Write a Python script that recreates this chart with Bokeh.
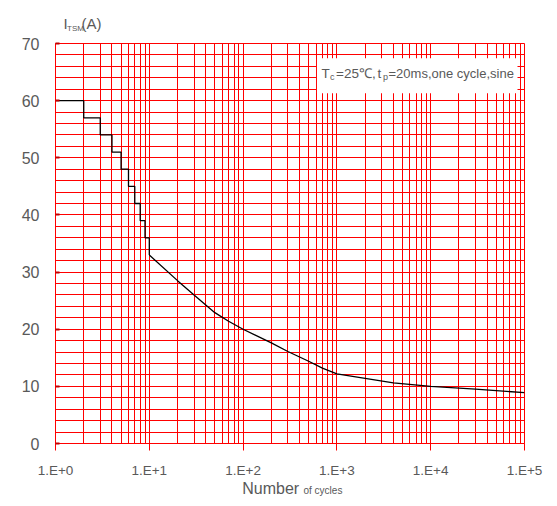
from bokeh.plotting import figure
from bokeh.layouts import column
from bokeh.models import FixedTicker, Label, BoxAnnotation, Range1d
from bokeh.embed import file_html
from bokeh.resources import INLINE

# ---- data ----
step_cycles = [1, 2, 3, 4, 5, 6, 7, 8, 9, 10]
step_current = [60, 57, 54, 51, 48, 45, 42, 39, 36, 33]

curve_cycles = [10, 20, 30, 50, 70, 100, 200, 300, 500, 700, 1000, 2000, 4000, 10000, 30000, 100000]
curve_current = [33, 28.5, 26.0, 22.9, 21.4, 20.0, 17.6, 16.1, 14.4, 13.2, 12.2, 11.4, 10.6, 10.0, 9.5, 8.9]

x_ticks = [1, 10, 100, 1000, 10000, 100000]
x_tick_labels = ["1.E+0", "1.E+1", "1.E+2", "1.E+3", "1.E+4", "1.E+5"]
y_ticks = [0, 10, 20, 30, 40, 50, 60, 70]

FONT = "Liberation Sans"
TXT = "#595959"
LEFT, FW, RIGHT = 55, 469, 32

x_minor = [m * d for d in x_ticks[:-1] for m in range(2, 10)]
y_minor = list(range(0, 71, 2))

# ---------------- main chart ----------------
p = figure(title=None, x_axis_type="log", x_range=(1, 100000), y_range=(0, 70),
           frame_width=FW, frame_height=400,
           min_border_left=LEFT, min_border_right=RIGHT, min_border_top=9, min_border_bottom=35,
           output_backend="svg", toolbar_location=None)
p.background_fill_color = "white"
p.border_fill_color = "white"
p.outline_line_color = "red"

p.xaxis.ticker = FixedTicker(ticks=x_ticks, minor_ticks=x_minor)
p.xaxis.major_label_overrides = dict(zip(x_ticks, x_tick_labels))
p.yaxis.ticker = FixedTicker(ticks=y_ticks, minor_ticks=y_minor)
for ax in (p.xaxis, p.yaxis):
    ax.axis_line_color = "red"
    ax.minor_tick_line_color = None
    ax.major_label_text_font = FONT
    ax.major_label_text_color = TXT
p.xaxis.major_label_text_font_size = "13.5px"
p.yaxis.major_label_text_font_size = "16px"
p.xaxis.major_tick_line_color = "red"
p.xaxis.major_tick_out = 7
p.xaxis.major_tick_in = 0
p.xaxis.major_label_standoff = 12
p.yaxis.major_tick_line_color = "#C00000"
p.yaxis.major_tick_line_width = 2
p.yaxis.major_tick_out = 0
p.yaxis.major_tick_in = 4
p.yaxis.major_label_standoff = 12

for g in (p.xgrid, p.ygrid):
    g.grid_line_color = "red"
    g.grid_line_width = 1
    g.minor_grid_line_color = "red"
    g.minor_grid_line_width = 1
p.xgrid.ticker = p.xaxis.ticker
p.ygrid.ticker = p.yaxis.ticker

p.step(step_cycles, step_current, mode="after", line_color="black", line_width=1.3)
p.line(curve_cycles, curve_current, line_color="black", line_width=1.3)

# white box behind the condition text
p.add_layout(BoxAnnotation(left=613, right=84200, bottom=61.3, top=67.4,
                           fill_color="white", fill_alpha=1.0, line_color=None, level="underlay"))

def lab(fig, text, xo, yo, size, anchor=(1, 70)):
    fig.add_layout(Label(x=anchor[0], y=anchor[1], x_offset=xo, y_offset=yo, text=text,
                         text_font=FONT, text_font_size=size, text_color=TXT,
                         text_baseline="middle", text_align="left"))

# condition text (offsets in px from the top-left corner of the plot frame)
lab(p, "T", 266, -29.8, "13.5px")
lab(p, "c", 274.5, -33.9, "9px")
lab(p, "=25\u2103,", 280.5, -29.8, "13.5px")
lab(p, "t", 322, -29.8, "13.5px")
lab(p, "p", 327.5, -33.9, "9px")
lab(p, "=20ms,one cycle,sine", 333, -29.8, "13px")

# ---------------- title strips (data units = page pixels from strip top) ----------------
def strip(h):
    s = figure(title=None, frame_width=FW, frame_height=h,
               min_border_left=LEFT, min_border_right=RIGHT, min_border_top=0, min_border_bottom=0,
               x_range=Range1d(LEFT, LEFT + FW), y_range=Range1d(h, 0),
               x_axis_location=None, y_axis_location=None,
               output_backend="svg", toolbar_location=None)
    s.grid.visible = False
    s.outline_line_color = None
    s.background_fill_color = "white"
    s.border_fill_color = "white"
    return s

top = strip(34)
lab(top, "I", 0, 0, "15px", anchor=(63, 22.5))
lab(top, "TSM", 0, 0, "8px", anchor=(66.5, 27.5))
lab(top, "(A)", 0, 0, "15px", anchor=(81, 22.5))

bottom = strip(27)
lab(bottom, "Number", 0, 0, "16px", anchor=(241.7, 7.5))
lab(bottom, "of cycles", 0, 0, "10px", anchor=(303, 10))

layout = column(top, p, bottom, spacing=0)

open("out.html", "w").write(file_html(layout, INLINE))
